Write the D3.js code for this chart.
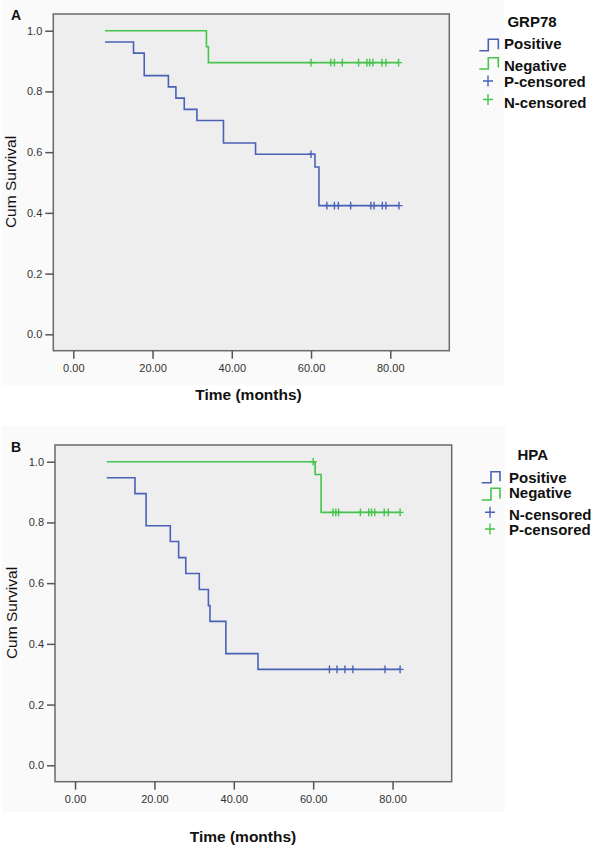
<!DOCTYPE html>
<html>
<head>
<meta charset="utf-8">
<script src="https://cdn.jsdelivr.net/npm/d3@7"></script>
<style>
  html, body { margin: 0; padding: 0; background: #fff; }
  svg { display: block; font-family: "Liberation Sans", Arial, sans-serif; }
</style>
</head>
<body>
<svg id="chart" width="600" height="855"></svg>
<script>
// ---------- data ----------
const xTicks = [0, 20, 40, 60, 80];
const yTicks = [0, 0.2, 0.4, 0.6, 0.8, 1.0];

// Panel A: GRP78
const aPosTime = [8.0, 15.2, 17.9, 24.0, 25.9, 28.0, 31.2, 37.9, 46.0, 61.0, 62.0];
const aPosSurv = [0.963, 0.926, 0.852, 0.815, 0.778, 0.741, 0.704, 0.630, 0.593, 0.551, 0.424];
const aPosCens = [60.0, 64.0, 65.9, 66.9, 70.0, 75.1, 75.9, 78.0, 78.9, 82.2];
const aNegTime = [8.0, 33.6, 34.1];
const aNegSurv = [1.0, 0.947, 0.895];
const aNegCens = [60.0, 65.0, 65.9, 67.9, 72.0, 74.1, 74.8, 75.6, 77.9, 78.9, 82.1];
const aLegend = ["Positive", "Negative", "P-censored", "N-censored"];

// Panel B: HPA
const bPosTime = [8.0, 15.1, 17.9, 24.0, 26.1, 27.9, 31.3, 33.6, 34.0, 38.0, 46.1];
const bPosSurv = [0.947, 0.895, 0.789, 0.737, 0.684, 0.632, 0.579, 0.526, 0.474, 0.368, 0.316];
const bPosCens = [64.1, 66.0, 68.0, 70.0, 78.1, 81.9];
const bNegTime = [8.0, 60.5, 62.0];
const bNegSurv = [1.0, 0.958, 0.833];
const bNegCens = [60.0, 65.0, 65.7, 66.4, 71.9, 74.0, 74.7, 75.5, 77.9, 78.9, 81.9];
const bLegend = ["Positive", "Negative", "N-censored", "P-censored"];

// ---------- style ----------
const BLUE = "#4a62b6";
const GREEN = "#45c34c";
const svg = d3.select("#chart");

function survAt(times, surv, t) {
  let s = surv[0];
  for (let i = 0; i < times.length; i++) if (times[i] <= t) s = surv[i];
  return s;
}

function drawPanel(p) {
  const g = svg.append("g");
  // outer light area
  g.append("rect").attr("x", p.outer[0]).attr("y", p.outer[1])
    .attr("width", p.outer[2]).attr("height", p.outer[3]).attr("fill", "#fafafa");

  const x = d3.scaleLinear().domain([-5.05, 94.9]).range([p.left, p.right]);
  const y = d3.scaleLinear().domain([-0.054, 1.055]).range([p.bottom, p.top]);

  g.append("rect").attr("x", p.left).attr("y", p.top)
    .attr("width", p.right - p.left).attr("height", p.bottom - p.top)
    .attr("fill", "#eeeeee").attr("stroke", "#6a6a6a").attr("stroke-width", 1.5);

  // y axis
  const ya = g.append("g").attr("transform", `translate(${p.left},0)`)
    .call(d3.axisLeft(y).tickValues(yTicks).tickFormat(d3.format(".1f")).tickSize(8).tickPadding(3));
  ya.select(".domain").remove();
  ya.selectAll(".tick line").attr("stroke", "#555").attr("stroke-width", 1.5);
  ya.selectAll(".tick text").attr("fill", "#333").style("font-size", "11px")
    .style("font-family", "'Liberation Sans', Arial, sans-serif");

  // x axis
  const xa = g.append("g").attr("transform", `translate(0,${p.bottom})`)
    .call(d3.axisBottom(x).tickValues(xTicks).tickFormat(d3.format(".2f")).tickSize(8).tickPadding(6));
  xa.select(".domain").remove();
  xa.selectAll(".tick line").attr("stroke", "#555").attr("stroke-width", 1.5);
  xa.selectAll(".tick text").attr("fill", "#333").style("font-size", "11px")
    .style("font-family", "'Liberation Sans', Arial, sans-serif");

  // curves
  const line = d3.line().x(d => x(d[0])).y(d => y(d[1])).curve(d3.curveStepAfter);
  p.series.forEach(s => {
    const pts = s.time.map((t, i) => [t, s.surv[i]]);
    const end = d3.max(s.cens);
    pts.push([end, s.surv[s.surv.length - 1]]);
    g.append("path").datum(pts).attr("d", line)
      .attr("fill", "none").attr("stroke", s.color).attr("stroke-width", 1.6);
    g.selectAll(null).data(s.cens).enter().append("path")
      .attr("d", t => {
        const cx = x(t), cy = y(survAt(s.time, s.surv, t));
        return `M${cx - 3.5},${cy}H${cx + 3.5}M${cx},${cy - 3.8}V${cy + 3.8}`;
      })
      .attr("stroke", s.color).attr("stroke-width", 1.4).attr("fill", "none");
  });

  // panel letter
  g.append("text").attr("x", p.letterPos[0]).attr("y", p.letterPos[1])
    .text(p.letter).style("font-weight", "bold").style("font-size", "14px").attr("fill", "#111");

  // y label
  g.append("text").attr("transform", `translate(${p.ylab[0]},${p.ylab[1]}) rotate(-90)`)
    .attr("text-anchor", "middle").text("Cum Survival")
    .style("font-size", "15.5px").attr("fill", "#111");

  // x label
  g.append("text").attr("x", p.xlab[0]).attr("y", p.xlab[1]).attr("text-anchor", "middle")
    .text("Time (months)").style("font-size", "15.5px").style("font-weight", "bold").attr("fill", "#111");

  // legend
  const L = p.legend;
  g.append("text").attr("x", L.titleX).attr("y", L.titleY).attr("text-anchor", "middle")
    .text(p.title).style("font-size", "15px").style("font-weight", "bold").attr("fill", "#111");
  const colors = [BLUE, GREEN, BLUE, GREEN];
  p.legendLabels.forEach((lab, i) => {
    g.append("text").attr("x", L.textX).attr("y", L.base[i]).text(lab)
      .style("font-size", "15px").style("font-weight", "bold").attr("fill", "#111");
    if (i < 2) {
      const ic = L.icons[i];
      g.append("path")
        .attr("d", `M${L.ix[0]},${ic[0]}H${L.ix[1]}V${ic[1]}H${L.ix[2]}V${ic[0] - 1.5}`)
        .attr("fill", "none").attr("stroke", colors[i]).attr("stroke-width", 1.6);
    } else {
      const c = L.plus[i - 2];
      g.append("path")
        .attr("d", `M${c[0] - 5},${c[1]}H${c[0] + 5}M${c[0]},${c[1] - 5.5}V${c[1] + 5.5}`)
        .attr("fill", "none").attr("stroke", colors[i]).attr("stroke-width", 1.4);
    }
  });
}

drawPanel({
  outer: [2, 0, 502, 385],
  left: 53.3, right: 449.3, top: 14, bottom: 350.7,
  letter: "A", letterPos: [11, 20], title: "GRP78",
  ylab: [16, 182], xlab: [248.5, 400],
  series: [
    { time: aNegTime, surv: aNegSurv, cens: aNegCens, color: GREEN },
    { time: aPosTime, surv: aPosSurv, cens: aPosCens, color: BLUE }
  ],
  legendLabels: aLegend,
  legend: {
    titleX: 532, titleY: 27, textX: 504,
    base: [49, 71, 87, 107.5],
    ix: [479.3, 488.3, 498.3],
    icons: [[50.7, 39.3], [69, 57.7]],
    plus: [[488, 81], [488, 99.5]]
  }
});

drawPanel({
  outer: [2, 426, 503, 386],
  left: 55, right: 451.7, top: 445, bottom: 781.7,
  letter: "B", letterPos: [11, 452], title: "HPA",
  ylab: [17, 613], xlab: [243, 842],
  series: [
    { time: bNegTime, surv: bNegSurv, cens: bNegCens, color: GREEN },
    { time: bPosTime, surv: bPosSurv, cens: bPosCens, color: BLUE }
  ],
  legendLabels: bLegend,
  legend: {
    titleX: 532.7, titleY: 460, textX: 509,
    base: [482.5, 498, 519.5, 535],
    ix: [481.7, 491, 500],
    icons: [[482.7, 471.7], [500, 488.3]],
    plus: [[490, 512.3], [490, 529]]
  }
});
</script>
</body>
</html>
